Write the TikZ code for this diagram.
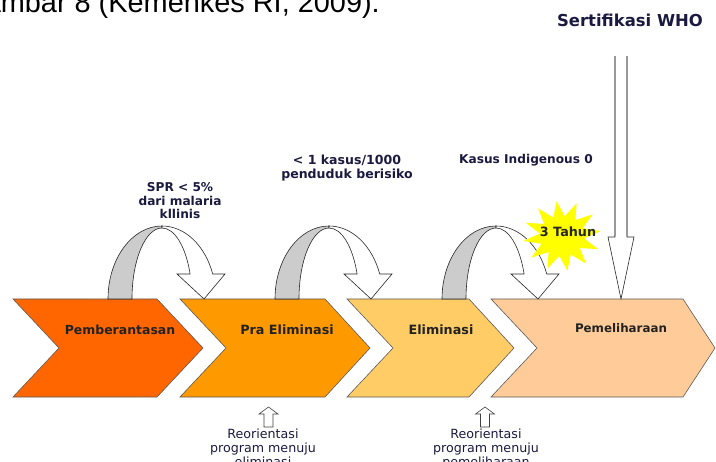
\documentclass[tikz,border=0pt]{standalone}
\usepackage{fontspec}
\setmainfont{DejaVu Sans}
\newfontfamily\captionfont{Liberation Sans}
\usetikzlibrary{shapes.geometric}

\definecolor{stageA}{HTML}{FF6600}
\definecolor{stageB}{HTML}{FF9900}
\definecolor{stageC}{HTML}{FFCC66}
\definecolor{stageD}{HTML}{FFCC99}
\definecolor{stageline}{HTML}{5A5A5A}
\definecolor{ribbongray}{HTML}{CCCCCC}
\definecolor{labeltext}{HTML}{222222}
\definecolor{notetext}{HTML}{1A1A40}
\definecolor{burst}{HTML}{FFFF00}

% chevron: left x, right x (top/bottom corner), tip x, fill colour
\newcommand{\stagechevron}[4]{%
  \draw[stagebox, fill=#4] (#1,-299) -- (#2,-299) -- (#3,-348) -- (#2,-397)
    -- (#1,-397) -- ({#1+46},-348) -- cycle;}

% U-turn ribbon arrow; #1 = left foot x, #2 = name prefix
\newcommand{\uturn}[2]{%
  \coordinate (#2-foot) at (#1,-299);
  \coordinate (#2-tip) at ({#1+96},-299);
  \draw[ribbon, fill=ribbongray] (#2-foot)
    arc[start angle=180, end angle=90, x radius=54, y radius=73]
    -- ++(0,-2)
    arc[start angle=90, end angle=180, x radius=30, y radius=71] -- cycle;
  \draw[ribbon, fill=white] ({#1+54},-226)
    arc[start angle=90, end angle=20, x radius=54, y radius=73]
    -- ({#1+117},-274) -- (#2-tip) -- ({#1+69},-274) -- ({#1+82.1},-274)
    arc[start angle=20.6, end angle=90, x radius=30, y radius=71] -- cycle;}

% small hollow up arrow; #1 = centre x
\newcommand{\hollowup}[1]{%
  \draw[uparrow] ({#1-4.5},-427) -- ({#1-4.5},-414) -- ({#1-9.5},-414)
    -- (#1,-407) -- ({#1+9.5},-414) -- ({#1+4.5},-414) -- ({#1+4.5},-427) -- cycle;}

\begin{document}
\begin{tikzpicture}[x=1bp, y=1bp,
  stagebox/.style={draw=stageline, line width=0.6bp, line join=miter},
  ribbon/.style={draw=black!85, line width=0.6bp},
  uparrow/.style={draw=black!75, line width=0.6bp, fill=white},
  stagelabel/.style={font=\bfseries\fontsize{12.8}{14}\selectfont, text=labeltext, inner sep=0, anchor=base},
  note/.style={font=\bfseries\fontsize{12.2}{13.5}\selectfont, text=notetext, align=center, inner sep=0},
  smallnote/.style={font=\fontsize{12.7}{14.2}\selectfont, text=notetext, align=center, inner sep=0, anchor=north}]

\useasboundingbox (0,0) rectangle (716,-462);
\clip (0,0) rectangle (716,-462);

% running text above the figure
\node[anchor=base east, inner sep=0, font=\captionfont\fontsize{29}{30}\selectfont] (caption)
  at (380,-12.5) {Gambar 8 (Kemenkes RI, 2009).};

% stage chevrons
\stagechevron{13}{157}{203}{stageA}
\stagechevron{180}{325}{370}{stageB}
\stagechevron{347}{469}{514}{stageC}
\stagechevron{491}{683}{715}{stageD}

\node[stagelabel, font=\bfseries\fontsize{12.5}{14}\selectfont] (s1) at (120,-335) {Pemberantasan};
\node[stagelabel] (s2) at (287,-335) {Pra Eliminasi};
\node[stagelabel] (s3) at (441,-335) {Eliminasi};
\node[stagelabel, font=\bfseries\fontsize{11.9}{14}\selectfont] (s4) at (621,-333) {Pemeliharaan};

% transitions between stages
\uturn{108}{t1}
\uturn{275}{t2}
\uturn{442}{t3}

% criteria
\node[note, anchor=north] (c1) at (180,-182.5) {SPR < 5\%\\dari malaria\\kllinis};
\node[note, anchor=north, font=\bfseries\fontsize{12.6}{14}\selectfont] (c2) at (347,-154.5) {< 1 kasus/1000\\penduduk berisiko};
\node[note, anchor=north, font=\bfseries\fontsize{12.2}{14}\selectfont] (c3) at (526,-154.5) {Kasus Indigenous 0};

% three-year burst
\node[star, star points=12, star point ratio=1.75, minimum size=78bp, inner sep=0,
      fill=burst, yscale=0.9, rotate=8] (burst) at (562,-236) {};
\node[note, anchor=base, font=\bfseries\fontsize{12.8}{14}\selectfont, text=black!85] (years)
  at (568,-237) {3 Tahun};

% certification arrow
\node[note, anchor=base, font=\bfseries\fontsize{16.5}{18}\selectfont] (who) at (630,-27) {Sertifikasi WHO};
\coordinate (who-top) at (621,-56);
\coordinate (who-tip) at (621,-299);
\fill[white] (615,-56) -- (615,-237) -- (608,-237) -- (who-tip) -- (634,-237) -- (627,-237) -- (627,-56) -- cycle;
\draw[black!85, line width=0.6bp] (615,-232) -- (615,-237) -- (608,-237) -- (who-tip) -- (634,-237) -- (627,-237) -- (627,-232);
\draw[black!40, line width=1.6bp] (615,-56) -- (615,-236) (627,-56) -- (627,-236);

% reorientation markers
\hollowup{268.5}
\hollowup{485}
\node[smallnote] (r1) at (263,-428.5) {Reorientasi\\program menuju\\eliminasi};
\node[smallnote] (r2) at (486,-428.5) {Reorientasi\\program menuju\\pemeliharaan};

\end{tikzpicture}
\end{document}
